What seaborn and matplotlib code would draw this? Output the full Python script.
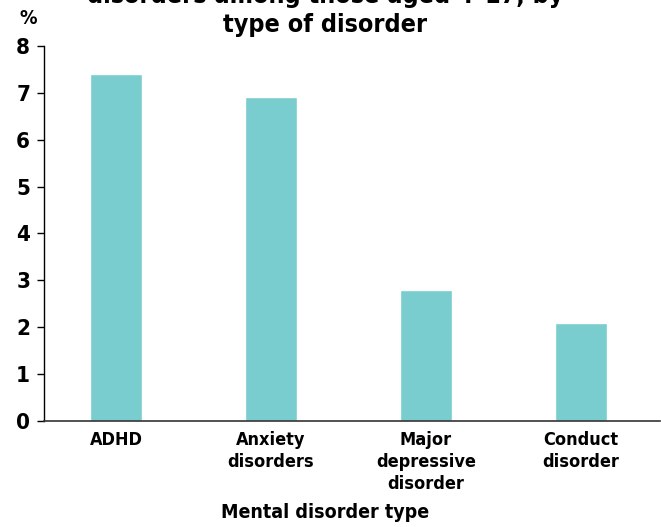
import matplotlib
matplotlib.use('Agg')
import matplotlib.pyplot as plt
import seaborn as sns
import pandas as pd

# Data
categories = ['ADHD', 'Anxiety\ndisorders', 'Major\ndepressive\ndisorder', 'Conduct\ndisorder']
prevalence = [7.4, 6.9, 2.8, 2.1]
y_ticks = [0, 1, 2, 3, 4, 5, 6, 7, 8]

df = pd.DataFrame({'Disorder': categories, 'Percent': prevalence})

sns.set_style('white')
plt.rcParams['font.family'] = ['DejaVu Sans']
plt.rcParams['font.stretch'] = 'condensed'
plt.rcParams['font.weight'] = 'bold'
plt.rcParams['text.color'] = 'black'
plt.rcParams['xtick.color'] = 'black'
plt.rcParams['ytick.color'] = 'black'
plt.rcParams['axes.labelcolor'] = 'black'

fig = plt.figure(figsize=(6.61, 5.27), dpi=100)
ax = fig.add_axes([0.0666, 0.201, 0.9314, 0.712])

sns.barplot(data=df, x='Disorder', y='Percent', color='#79CDCF',
            width=0.335, saturation=1, ax=ax)

ax.set_ylim(0, 8)
ax.set_xlim(-0.465, 3.51)
ax.set_yticks(y_ticks)
ax.set_yticklabels([str(t) for t in y_ticks], fontsize=16, fontweight='bold')
ax.tick_params(axis='y', direction='out', length=5, width=1, color='black', pad=5, left=True)
ax.tick_params(axis='x', length=0, pad=7, labelsize=13)
for lbl in ax.get_xticklabels():
    lbl.set_fontweight('bold')
    lbl.set_linespacing(1.3)

for side in ['top', 'right']:
    ax.spines[side].set_visible(False)
ax.spines['left'].set_color('black')
ax.spines['bottom'].set_color('#333333')
ax.spines['left'].set_linewidth(1)
ax.spines['bottom'].set_linewidth(1.2)

ax.set_ylabel('')
ax.set_xlabel('Mental disorder type', fontsize=14, fontweight='bold')
ax.xaxis.set_label_coords(0.456, -0.218)

fig.text(0.03, 0.965, '%', fontsize=14, fontweight='bold', ha='left', va='center')
# the first title line is clipped by the top edge, as in the reference
fig.text(0.492, 0.93, 'disorders among those aged 4\u201317, by\ntype of disorder',
         fontsize=18, fontweight='bold', ha='center', va='bottom', linespacing=1.25)

fig.savefig('out.png', dpi=100)
